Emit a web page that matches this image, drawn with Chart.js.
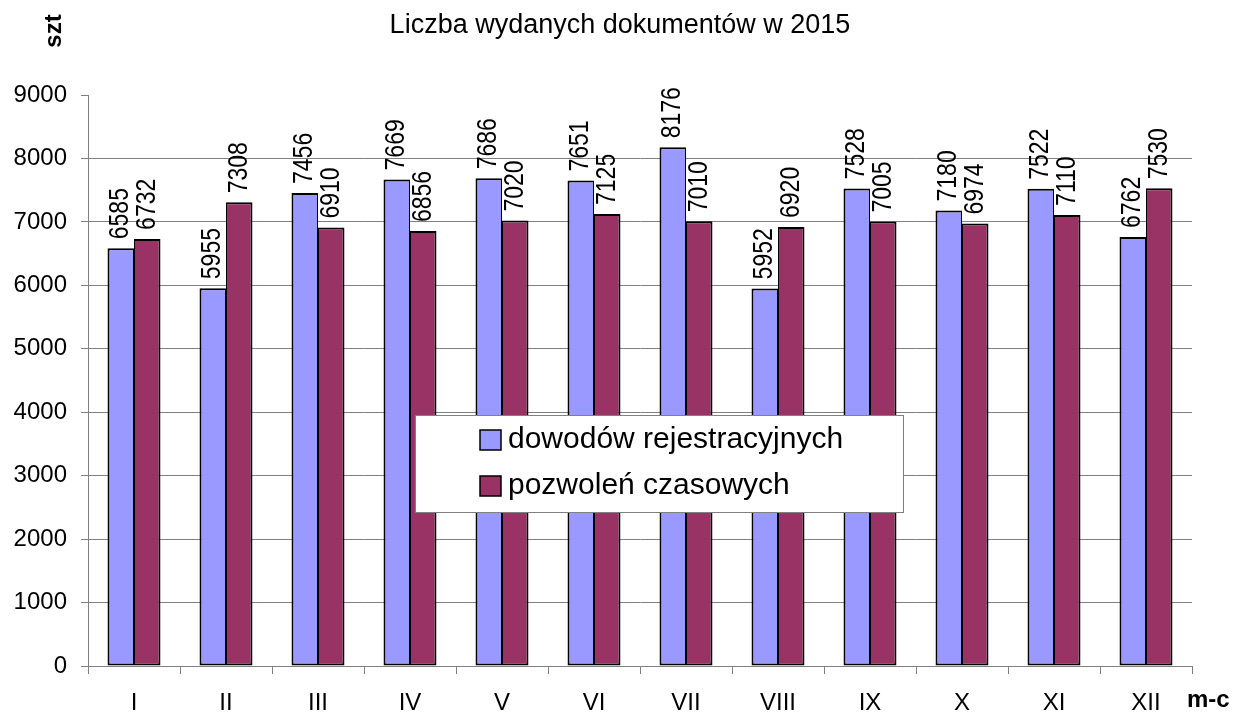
<!DOCTYPE html>
<html>

<head>
    <meta charset="utf-8">
    <title>Liczba wydanych dokumentów w 2015</title>
    <script src="https://cdn.jsdelivr.net/npm/chart.js"></script>
    <style>
        html,
        body {
            margin: 0;
            padding: 0;
            background: #ffffff;
        }

        #wrap {
            width: 1234px;
            height: 713px;
        }
    </style>
</head>

<body>
    <div id="wrap">
        <canvas id="docChart" width="1234" height="713"></canvas>
    </div>

    <script>
        // data
        const months = ['I', 'II', 'III', 'IV', 'V', 'VI', 'VII', 'VIII', 'IX', 'X', 'XI', 'XII'];
        const dowody = [6585, 5955, 7456, 7669, 7686, 7651, 8176, 5952, 7528, 7180, 7522, 6762];
        const pozwolenia = [6732, 7308, 6910, 6856, 7020, 7125, 7010, 6920, 7005, 6974, 7110, 7530];
        const seriesNames = ['dowodów rejestracyjnych', 'pozwoleń czasowych'];
        const chartTitle = 'Liczba wydanych dokumentów w 2015';
        const yMin = 0;
        const yMax = 9000;
        const yStep = 1000;

        const FONT = '"Liberation Sans", Arial, sans-serif';
        const BLUE = '#9999ff';
        const MAROON = '#993366';
        const GRID = '#808080';

        // values written vertically above each bar
        const barLabels = {
            id: 'barLabels',
            afterDatasetsDraw(chart) {
                const ctx = chart.ctx;
                ctx.save();
                ctx.fillStyle = '#000';
                ctx.font = '23px ' + FONT;
                ctx.textAlign = 'left';
                ctx.textBaseline = 'middle';
                chart.data.datasets.forEach((ds, di) => {
                    const meta = chart.getDatasetMeta(di);
                    meta.data.forEach((bar, i) => {
                        ctx.save();
                        ctx.translate(bar.x, bar.y - 9);
                        ctx.rotate(-Math.PI / 2);
                        ctx.scale(1, 1.18); // glyphs in the original look a bit taller
                        ctx.fillText(String(ds.data[i]), 0, 0);
                        ctx.restore();
                    });
                });
                ctx.restore();
            }
        };

        // title, axis names + legend box inside the plot
        const extras = {
            id: 'extras',
            afterDraw(chart) {
                const ctx = chart.ctx;
                const area = chart.chartArea;
                ctx.save();

                ctx.fillStyle = '#000';
                ctx.font = '27px ' + FONT;
                ctx.textAlign = 'center';
                ctx.textBaseline = 'alphabetic';
                ctx.fillText(chartTitle, 620, 33);

                // "szt" rotated at top left
                ctx.font = 'bold 24px ' + FONT;
                ctx.save();
                ctx.translate(area.left - 27, 31);
                ctx.rotate(-Math.PI / 2);
                ctx.fillText('szt', 0, 0);
                ctx.restore();

                // "m-c" bottom right
                ctx.textAlign = 'left';
                ctx.fillText('m-c', area.right - 5, 707);

                // legend
                const lx = area.left + 327;
                const ly = area.top + 320;
                const lw = 488;
                const lh = 97;
                ctx.fillStyle = '#fff';
                ctx.fillRect(lx, ly, lw, lh);
                ctx.strokeStyle = GRID;
                ctx.lineWidth = 1;
                ctx.strokeRect(lx + 0.5, ly + 0.5, lw, lh);

                ctx.font = '30px ' + FONT;
                ctx.textBaseline = 'middle';
                chart.data.datasets.forEach((ds, di) => {
                    const sy = ly + 15 + di * 46;
                    ctx.fillStyle = ds.backgroundColor;
                    ctx.fillRect(lx + 65, sy, 21, 20);
                    ctx.strokeStyle = '#000';
                    ctx.lineWidth = 1.5;
                    ctx.strokeRect(lx + 65, sy, 21, 20);
                    ctx.fillStyle = '#000';
                    ctx.fillText(ds.label, lx + 93, sy + 10);
                });
                ctx.restore();
            }
        };

        const ctx = document.getElementById('docChart').getContext('2d');
        new Chart(ctx, {
            type: 'bar',
            data: {
                labels: months,
                datasets: [{
                    label: seriesNames[0],
                    data: dowody,
                    backgroundColor: BLUE,
                    borderColor: '#000',
                    borderWidth: { left: 2, top: 2, bottom: 2, right: 1 },
                    borderSkipped: false,
                    categoryPercentage: 0.576,
                    barPercentage: 1.0
                }, {
                    label: seriesNames[1],
                    data: pozwolenia,
                    backgroundColor: MAROON,
                    borderColor: '#000',
                    borderWidth: { left: 1, top: 2, bottom: 2, right: 2 },
                    borderSkipped: false,
                    categoryPercentage: 0.576,
                    barPercentage: 1.0
                }]
            },
            options: {
                responsive: false,
                animation: false,
                devicePixelRatio: 1,
                layout: {
                    padding: { left: 12, right: 42, top: 95, bottom: 0 }
                },
                plugins: {
                    legend: { display: false },
                    tooltip: { enabled: false },
                    title: { display: false }
                },
                scales: {
                    x: {
                        offset: true,
                        grid: {
                            offset: true,
                            drawOnChartArea: false,
                            drawTicks: true,
                            tickLength: 8,
                            color: GRID,
                            tickColor: GRID
                        },
                        border: { display: true, color: GRID, width: 1 },
                        ticks: {
                            color: '#000',
                            font: { family: FONT, size: 24 },
                            padding: 15,
                            maxRotation: 0,
                            autoSkip: false
                        },
                        afterFit(scale) {
                            scale.height = 47;
                        }
                    },
                    y: {
                        min: yMin,
                        max: yMax,
                        grid: {
                            color: (c) => (c.tick && c.tick.value === yMax) ? 'rgba(0,0,0,0)' : GRID,
                            tickColor: GRID,
                            tickLength: 7,
                            lineWidth: 1
                        },
                        border: { display: true, color: GRID, width: 1 },
                        ticks: {
                            stepSize: yStep,
                            color: '#000',
                            font: { family: FONT, size: 24 },
                            padding: 14,
                            callback: (v) => String(v)
                        },
                        afterFit(scale) {
                            scale.width = 76;
                        }
                    }
                }
            },
            plugins: [barLabels, extras]
        });
    </script>

</body>

</html>
